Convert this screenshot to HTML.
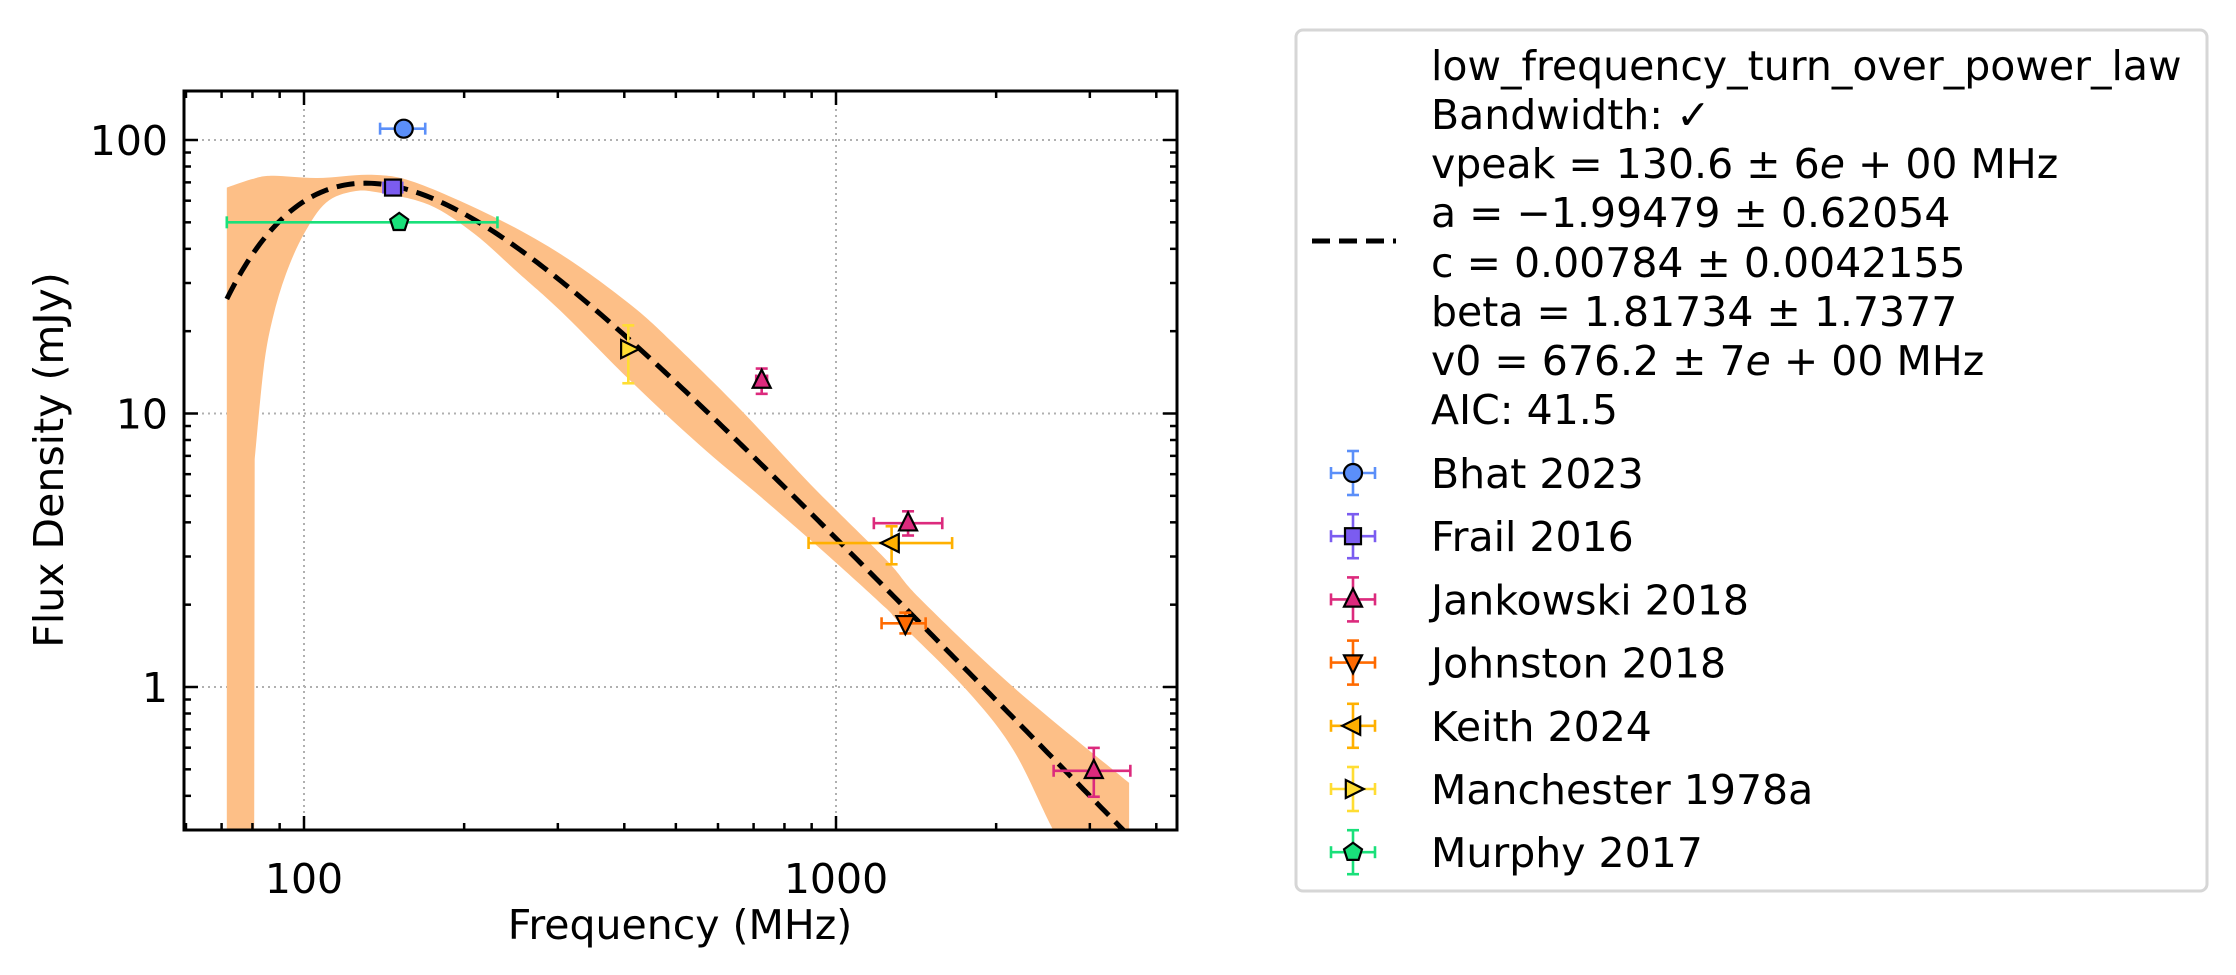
<!DOCTYPE html>
<html><head><meta charset="utf-8">
<style>
html,body{margin:0;padding:0;background:#fff;}
svg{display:block;font-family:"DejaVu Sans","Liberation Sans",sans-serif;}
</style></head>
<body>
<svg id="chart" width="2236" height="975" viewBox="0 0 2236 975" xmlns="http://www.w3.org/2000/svg">
  <defs><clipPath id="plotclip"><rect x="184" y="91" width="993" height="739"/></clipPath></defs>
  <g id="grid"></g>
  <g id="band" clip-path="url(#plotclip)"></g>
  <g id="curve" clip-path="url(#plotclip)"></g>
  <g id="points"></g>
  <g id="axes"></g>
  <text x="680" y="939" font-size="41" text-anchor="middle">Frequency (MHz)</text>
  <text x="63" y="460" font-size="41" text-anchor="middle" transform="rotate(-90 63 460)">Flux Density (mJy)</text>
  <g id="legend">
    <rect x="1296" y="30" width="911" height="861" rx="7" fill="#fff" stroke="#d6d6d6" stroke-width="3"/>
    <line x1="1312" y1="241" x2="1396" y2="241" stroke="#000" stroke-width="5" stroke-dasharray="18,9"/>
    <g font-size="41">
      <text x="1431" y="80">low_frequency_turn_over_power_law</text>
      <text x="1431" y="129">Bandwidth: ✓</text>
      <text x="1431" y="178">vpeak = 130.6 ± 6<tspan font-style="italic">e</tspan> + 00 MHz</text>
      <text x="1431" y="227">a = −1.99479 ± 0.62054</text>
      <text x="1431" y="277">c = 0.00784 ± 0.0042155</text>
      <text x="1431" y="326">beta = 1.81734 ± 1.7377</text>
      <text x="1431" y="375">v0 = 676.2 ± 7<tspan font-style="italic">e</tspan> + 00 MHz</text>
      <text x="1431" y="424">AIC: 41.5</text>
    </g>
    <g id="legend-entries"></g>
  </g>
</svg>
<script>
// ---- data ----
const seriesNames = ["Bhat 2023","Frail 2016","Jankowski 2018","Johnston 2018","Keith 2024","Manchester 1978a","Murphy 2017"];
const seriesColors = ["#5b8ff9","#7b5cf0","#dc2a7d","#ff6a00","#ffb000","#ffdd33","#19e07a"];
const seriesMarkers = ["circle","square","tri-up","tri-down","tri-left","tri-right","pentagon"];
const pointSeries = [0,1,6,5,2,2,4,3,2];
const pointFreq   = [154,147,151,407,725,1366,1272,1350,3052];
const pointFlux   = [110,67,50,17.2,13.2,3.97,3.36,1.71,0.494];
const pointFreqLo = [139,141,71.6,407,708,1178,888,1218,2565];
const pointFreqHi = [169,153,231,407,742,1584,1653,1474,3575];
const pointFluxLo = [110,63,48,12.9,11.8,3.58,2.81,1.57,0.397];
const pointFluxHi = [110,71,52,21.0,14.6,4.39,3.87,1.87,0.599];
const fitVpeak = 130.6, fitA = -1.99479, fitC = 0.00784, fitBeta = 1.81734, fitV0 = 676.2;
const fitFreqMin = 71.6, fitFreqMax = 3600;
const bandUpperFreq = [71.6,80,87.3,106,134,162,230,308,412,500,669,896,1242,1440,2153,3556];
const bandUpperFlux = [67,72,74,72.6,74.6,69.9,51.8,37.6,24.9,17.7,10.1,5.5,2.92,2.1,1.0,0.446];
const bandLowerFreq = [71.6,80.6,80.8,84,87.3,92.5,100,110,124,139,172,209,254,308,412,551,738,986,1242,1320,1760,2153,2560,2900,3556];
const bandLowerFlux = [0.2,0.2,6.8,14.7,22.2,32.4,45.4,59,64.9,64.1,57.9,45.4,32.4,23.1,13.1,7.74,4.78,2.92,1.94,1.71,0.975,0.59,0.30,0.2,0.2];
const xMajorTicks = [100,1000];
const xMajorLabels = ["100","1000"];
const xMinorTicks = [60,70,80,90,200,300,400,500,600,700,800,900,2000,3000,4000];
const yMajorTicks = [1,10,100];
const yMajorLabels = ["1","10","100"];
const yMinorTicks = [0.3,0.4,0.5,0.6,0.7,0.8,0.9,2,3,4,5,6,7,8,9,20,30,40,50,60,70,80,90];

const L=184,R=1177,T=91,B=830;
const xDec=532, x100=304, yDec=273.5, y100=140;
function X(f){return x100+(Math.log10(f)-2)*xDec;}
function Y(v){return y100-(Math.log10(v)-2)*yDec;}
const NS="http://www.w3.org/2000/svg";
function mk(tag,attrs,parent){const e=document.createElementNS(NS,tag);for(const k in attrs)e.setAttribute(k,attrs[k]);parent.appendChild(e);return e;}

const grid=document.getElementById('grid');
xMajorTicks.forEach(t=>{const l=mk('line',{x1:X(t),x2:X(t),y1:T,y2:B,stroke:'#b0b0b0','stroke-width':2,'stroke-dasharray':'2,4'},grid);

});
yMajorTicks.forEach(t=>{const l=mk('line',{x1:L,x2:R,y1:Y(t),y2:Y(t),stroke:'#b0b0b0','stroke-width':2,'stroke-dasharray':'2,4'},grid);

});

function smooth(p){
  let d='M'+p[0][0]+','+p[0][1];
  for(let i=0;i<p.length-1;i++){
    const p0=p[Math.max(i-1,0)],p1=p[i],p2=p[i+1],p3=p[Math.min(i+2,p.length-1)];
    const c1=[p1[0]+(p2[0]-p0[0])/6,p1[1]+(p2[1]-p0[1])/6];
    const c2=[p2[0]-(p3[0]-p1[0])/6,p2[1]-(p3[1]-p1[1])/6];
    d+='C'+c1[0].toFixed(1)+','+c1[1].toFixed(1)+' '+c2[0].toFixed(1)+','+c2[1].toFixed(1)+' '+p2[0].toFixed(1)+','+p2[1].toFixed(1);
  }
  return d;
}
const up=bandUpperFreq.map((f,i)=>[X(f),Y(bandUpperFlux[i])]);
const lo=bandLowerFreq.map((f,i)=>[X(f),Y(bandLowerFlux[i])]);
const loTail=lo.slice(2);
let bd=smooth(up)+'L'+X(bandLowerFreq[bandLowerFreq.length-1])+','+(B+20);
const loRev=loTail.slice().reverse();
bd+='L'+loRev[0][0]+','+loRev[0][1]+smooth(loRev).slice(1).replace(/^[^C]*/,'')+'L'+lo[1][0]+','+(B+20)+'L'+lo[0][0]+','+(B+20)+'Z';
const band=mk('path',{d:bd,fill:'#fdbf87'},document.getElementById('band'));



function model(v){return 1000*fitC*Math.pow(v/fitV0,fitA)*Math.exp(fitA/fitBeta*Math.pow(v/fitVpeak,-fitBeta));}
let d='';
for(let i=0;i<=300;i++){const lf=Math.log10(fitFreqMin)+(Math.log10(fitFreqMax)-Math.log10(fitFreqMin))*i/300;const v=Math.pow(10,lf);d+=(i?'L':'M')+X(v).toFixed(2)+','+Y(model(v)).toFixed(2);}
const cv=mk('path',{d:d,fill:'none',stroke:'#000','stroke-width':5,'stroke-dasharray':'18,9'},document.getElementById('curve'));



function marker(type,cx,cy,color,parent){
  const r=9;let e;
  const st={fill:color,stroke:'#000','stroke-width':2.2};
  if(type==='circle'){e=mk('circle',Object.assign({cx:cx,cy:cy,r:r},st),parent);}
  else if(type==='square'){e=mk('rect',Object.assign({x:cx-8,y:cy-8,width:16,height:16},st),parent);}
  else{
    let p;
    if(type==='tri-up')p=[[0,-r*1.2],[r,r*0.8],[-r,r*0.8]];
    else if(type==='tri-down')p=[[0,r*1.2],[r,-r*0.8],[-r,-r*0.8]];
    else if(type==='tri-left')p=[[-r*1.2,0],[r*0.8,-r],[r*0.8,r]];
    else if(type==='tri-right')p=[[r*1.2,0],[-r*0.8,-r],[-r*0.8,r]];
    else {p=[];for(let k=0;k<5;k++){const a=-Math.PI/2+k*2*Math.PI/5;p.push([r*1.05*Math.cos(a),r*1.05*Math.sin(a)]);}}
    e=mk('polygon',Object.assign({points:p.map(q=>(cx+q[0])+','+(cy+q[1])).join(' ')},st),parent);
  }
  return e;
}
function errbar(x1,y1,x2,y2,color,parent,horiz){
  const g=mk('g',{stroke:color,'stroke-width':2.6},parent);
  mk('line',{x1:x1,y1:y1,x2:x2,y2:y2},g);
  if(horiz){mk('line',{x1:x1,x2:x1,y1:y1-6,y2:y1+6},g);mk('line',{x1:x2,x2:x2,y1:y2-6,y2:y2+6},g);}
  else{mk('line',{x1:x1-6,x2:x1+6,y1:y1,y2:y1},g);mk('line',{x1:x2-6,x2:x2+6,y1:y2,y2:y2},g);}
  return g;
}
const pg=document.getElementById('points');
for(let i=0;i<pointFreq.length;i++){
  const s=pointSeries[i],c=seriesColors[s];
  const g=mk('g',{},pg);
  
  
  const cx=X(pointFreq[i]),cy=Y(pointFlux[i]);
  if(pointFreqHi[i]>pointFreqLo[i])errbar(X(pointFreqLo[i]),cy,X(pointFreqHi[i]),cy,c,g,true);
  if(pointFluxHi[i]>pointFluxLo[i])errbar(cx,Y(pointFluxHi[i]),cx,Y(pointFluxLo[i]),c,g,false);
  marker(seriesMarkers[s],cx,cy,c,g);
}

const ax=document.getElementById('axes');
const frame=mk('rect',{x:L,y:T,width:R-L,height:B-T,fill:'none',stroke:'#000','stroke-width':3},ax);


function tk(x1,y1,x2,y2){mk('line',{x1:x1,y1:y1,x2:x2,y2:y2,stroke:'#000','stroke-width':2.5},ax);}
xMajorTicks.forEach((t,i)=>{const x=X(t);tk(x,B,x,B-14);tk(x,T,x,T+14);
  const lb=mk('text',{x:x,y:893,'font-size':41,'text-anchor':'middle'},ax);lb.textContent=xMajorLabels[i];
  
  });
xMinorTicks.forEach(t=>{const x=X(t);if(x<L||x>R)return;tk(x,B,x,B-7);tk(x,T,x,T+7);});
yMajorTicks.forEach((t,i)=>{const y=Y(t);tk(L,y,L+14,y);tk(R,y,R-14,y);
  const lb=mk('text',{x:168,y:y+15,'font-size':41,'text-anchor':'end'},ax);lb.textContent=yMajorLabels[i];
  
  });
yMinorTicks.forEach(t=>{const y=Y(t);if(y<T||y>B)return;tk(L,y,L+7,y);tk(R,y,R-7,y);});

const le=document.getElementById('legend-entries');
seriesNames.forEach((n,i)=>{
  const cy=473+i*63.2,cx=1353,c=seriesColors[i];
  const g=mk('g',{},le);
  
  
  errbar(cx-22,cy,cx+22,cy,c,g,true);
  errbar(cx,cy-22,cx,cy+22,c,g,false);
  marker(seriesMarkers[i],cx,cy,c,g);
  const t=mk('text',{x:1431,y:cy+15,'font-size':41},g);t.textContent=n;
});
</script>
</body></html>
